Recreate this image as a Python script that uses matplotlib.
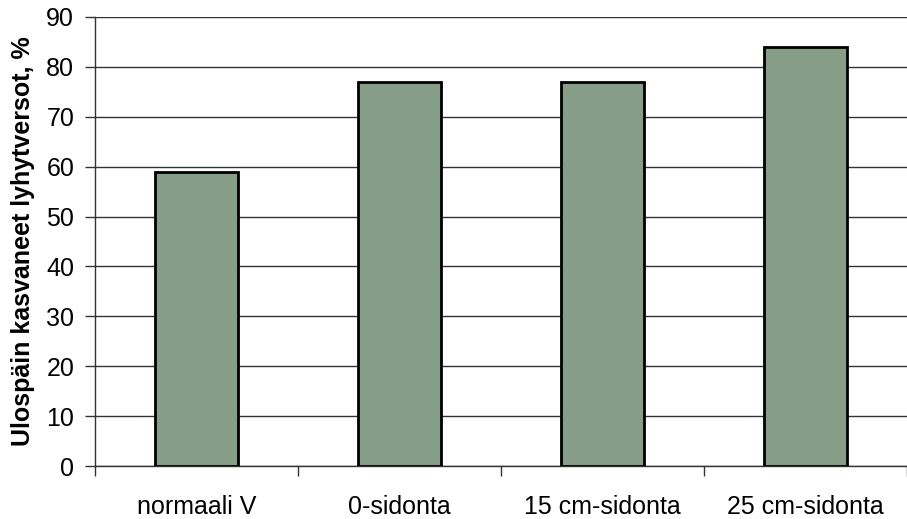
#!/usr/bin/env python3
"""
Bar chart: share of outward-growing short shoots by tying method.
"""
import matplotlib
matplotlib.use("Agg")
import matplotlib.pyplot as plt

categories = ["normaali V", "0-sidonta", "15 cm-sidonta", "25 cm-sidonta"]
values = [59, 77, 77, 84]
y_ticks = [0, 10, 20, 30, 40, 50, 60, 70, 80, 90]

BAR_COLOR = "#869d87"

plt.rcParams["font.family"] = ["Liberation Sans", "DejaVu Sans"]

fig = plt.figure(figsize=(9.07, 5.19), dpi=100)
ax = fig.add_axes([95 / 907, 1 - 466 / 519, 812 / 907, (466 - 17) / 519])

xs = list(range(len(categories)))
ax.bar(xs, values, width=0.41, color=BAR_COLOR, edgecolor="black",
       linewidth=2.0, zorder=3)

ax.set_xlim(-0.5, len(categories) - 0.5)
ax.set_ylim(0, 90)
ax.set_yticks(y_ticks)
ax.yaxis.grid(True, color="#333333", linewidth=1.0, zorder=0)
ax.set_axisbelow(True)

# category boundaries get the tick marks, labels sit in the middle
ax.set_xticks([x - 0.5 for x in xs] + [len(categories) - 0.5])
ax.set_xticklabels([])
ax.set_xticks(xs, minor=True)
ax.set_xticklabels(categories, minor=True)
ax.tick_params(axis="x", which="major", length=7, width=1.0, color="#333333")
ax.tick_params(axis="x", which="minor", length=0, pad=21, labelsize=18)
ax.tick_params(axis="y", length=7, width=1.0, color="#333333", labelsize=18, pad=8)

for side in ("top", "right"):
    ax.spines[side].set_visible(False)
for side in ("left", "bottom"):
    ax.spines[side].set_color("#333333")
    ax.spines[side].set_linewidth(1.0)

ax.set_ylabel("Ulospäin kasvaneet lyhytversot, %", fontsize=18,
              fontweight="bold", labelpad=8)

fig.savefig("out.png", dpi=100)
